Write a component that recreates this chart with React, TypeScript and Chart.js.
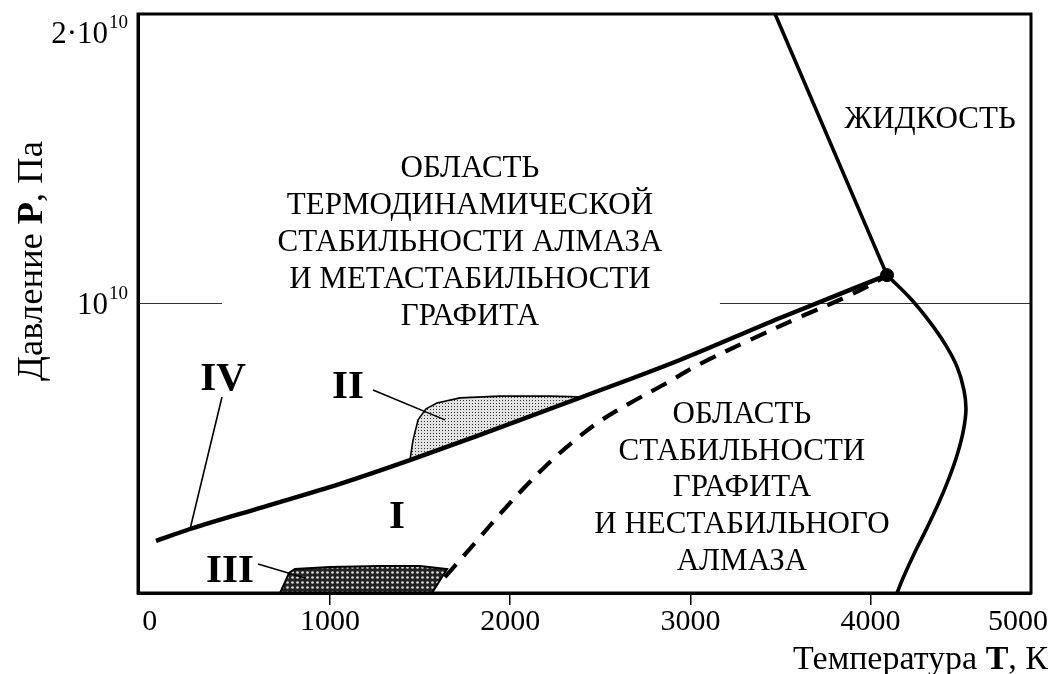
import React, { useEffect, useRef } from "react";
import { Chart, registerables } from "chart.js";

Chart.register(...registerables);

const FONT = '"Liberation Serif", "Times New Roman", serif';

// ---- axes ----
const xMin = -65;
const xMax = 4890;
const xTickValues = [0, 1000, 2000, 3000, 4000, 5000];
const xTickLabels = ["0", "1000", "2000", "3000", "4000", "5000"];
const yTickValues = [1e10, 2e10];
const yTickBase = ["10", "2·10"];
const yTickExp = ["10", "10"];

// ---- IV: diamond / graphite equilibrium line (T, K ; P, Pa) ----
const lineIV_T = [35, 224, 629, 1056, 1444, 1833, 2399, 2942, 3497, 4091];
const lineIV_P = [0.180e10, 0.221e10, 0.297e10, 0.377e10, 0.459e10, 0.546e10, 0.677e10, 0.805e10, 0.950e10, 1.098e10];

// ---- dashed line ----
const dashed_T = [1638, 1722, 1833, 1944, 2082, 2221, 2360, 2499, 2665, 2859, 3053, 3331, 3608, 3886, 4091];
const dashed_P = [0.055e10, 0.114e10, 0.193e10, 0.273e10, 0.366e10, 0.4525e10, 0.5285e10, 0.594e10, 0.656e10, 0.722e10, 0.791e10, 0.874e10, 0.953e10, 1.029e10, 1.095e10];

// ---- melting lines ----
const meltUpper_T = [3470, 4091];
const meltUpper_P = [2.0e10, 1.098e10];
const meltLower_T = [4091, 4219, 4324, 4413, 4480, 4518, 4529, 4513, 4480, 4435, 4380, 4313, 4241, 4180, 4147];
const meltLower_P = [1.098e10, 1.019e10, 0.940e10, 0.860e10, 0.781e10, 0.701e10, 0.632e10, 0.556e10, 0.477e10, 0.397e10, 0.314e10, 0.225e10, 0.135e10, 0.052e10, 0.0];

// ---- triple point ----
const triple_T = [4091];
const triple_P = [1.098e10];

// ---- 10^10 reference line (interrupted by the text) ----
const refLeft_T = [-65, 401];
const refRight_T = [3164, 4890];
const ref_P = [1e10, 1e10];

// ---- region II (dotted) ----
const regionII_T = [1444, 1461, 1489, 1533, 1594, 1722, 1944, 2221, 2399, 1833, 1444];
const regionII_P = [0.459e10, 0.528e10, 0.598e10, 0.636e10, 0.656e10, 0.674e10, 0.680e10, 0.680e10, 0.677e10, 0.546e10, 0.459e10];

// ---- region III (cross-hatched) ----
const regionIII_T = [723, 751, 773, 806, 1000, 1278, 1500, 1650, 1566, 723];
const regionIII_P = [0, 0.038e10, 0.069e10, 0.083e10, 0.090e10, 0.093e10, 0.093e10, 0.083e10, 0, 0];

// ---- texts ----
const upperRegionLines = ["ОБЛАСТЬ", "ТЕРМОДИНАМИЧЕСКОЙ", "СТАБИЛЬНОСТИ АЛМАЗА", "И МЕТАСТАБИЛЬНОСТИ", "ГРАФИТА"];
const lowerRegionLines = ["ОБЛАСТЬ", "СТАБИЛЬНОСТИ", "ГРАФИТА", "И НЕСТАБИЛЬНОГО", "АЛМАЗА"];
const liquidLabel = "ЖИДКОСТЬ";
const romanLabels = ["IV", "II", "III", "I"];
const romanAt_T = [407, 1100, 445, 1372];
const romanAt_P = [0.701e10, 0.674e10, 0.038e10, 0.2245e10];
const leaderFrom_T = [401, 1239, 601];
const leaderFrom_P = [0.677e10, 0.701e10, 0.100e10];
const leaderTo_T = [224, 1638, 862];
const leaderTo_P = [0.221e10, 0.598e10, 0.052e10];
const upperAnchor = { T: 1777, P: 1.437e10 };
const lowerAnchor = { T: 3286, P: 0.587e10 };
const liquidAnchor = { T: 4330, P: 1.606e10 };

const pts = (T: number[], P: number[]) => T.map((t, i) => ({ x: t, y: P[i] }));

function drawRich(ctx: CanvasRenderingContext2D, parts: [string, boolean][], size: number, x: number, y: number, align: "left" | "center" | "right") {
  const widths = parts.map(([t, b]) => {
    ctx.font = `${b ? "bold " : ""}${size}px ${FONT}`;
    return ctx.measureText(t).width;
  });
  const total = widths.reduce((a, b) => a + b, 0);
  let cx = align === "left" ? x : align === "center" ? x - total / 2 : x - total;
  ctx.textAlign = "left";
  ctx.textBaseline = "alphabetic";
  parts.forEach(([t, b], i) => {
    ctx.font = `${b ? "bold " : ""}${size}px ${FONT}`;
    ctx.fillText(t, cx, y);
    cx += widths[i];
  });
}

const overlayPlugin = {
  id: "overlay",
  afterDraw(chart: any) {
    const { ctx, chartArea: a, scales, width } = chart;
    const X = (t: number) => scales.x.getPixelForValue(t);
    const Y = (p: number) => scales.y.getPixelForValue(p);
    ctx.save();
    ctx.fillStyle = "#000";
    ctx.strokeStyle = "#000";

    // frame
    ctx.lineWidth = 3;
    ctx.strokeRect(a.left, a.top, a.right - a.left, a.bottom - a.top);

    // x tick labels (kept inside the canvas)
    ctx.font = `30px ${FONT}`;
    ctx.textAlign = "center";
    ctx.textBaseline = "alphabetic";
    xTickValues.forEach((v, i) => {
      const w = ctx.measureText(xTickLabels[i]).width;
      const cx = Math.min(X(v), width - 13 - w / 2);
      ctx.fillText(xTickLabels[i], cx, a.bottom + 37);
    });

    // y tick labels with superscripts
    yTickValues.forEach((v, i) => {
      const py = Y(v);
      const base = Math.max(py + 10, a.top + 29);
      ctx.font = `31px ${FONT}`;
      const mw = ctx.measureText(yTickBase[i]).width;
      ctx.font = `19px ${FONT}`;
      const sw = ctx.measureText(yTickExp[i]).width;
      const sx = a.left - 10 - sw;
      ctx.textAlign = "left";
      ctx.textBaseline = "alphabetic";
      ctx.fillText(yTickExp[i], sx, base - 15);
      ctx.font = `31px ${FONT}`;
      ctx.fillText(yTickBase[i], sx - 1 - mw, base);
    });

    // axis titles
    drawRich(ctx, [["Температура ", false], ["T", true], [", К", false]], 34, width - 13, 669, "right");
    ctx.save();
    ctx.translate(42, 261);
    ctx.rotate(-Math.PI / 2);
    drawRich(ctx, [["Давление ", false], ["P", true], [", Па", false]], 36.5, 0, 0, "center");
    ctx.restore();

    // region texts
    ctx.font = `31px ${FONT}`;
    ctx.textAlign = "center";
    ctx.textBaseline = "alphabetic";
    upperRegionLines.forEach((s, i) => ctx.fillText(s, X(upperAnchor.T), Y(upperAnchor.P) + i * 37));
    lowerRegionLines.forEach((s, i) => ctx.fillText(s, X(lowerAnchor.T), Y(lowerAnchor.P) + i * 36.7));
    ctx.fillText(liquidLabel, X(liquidAnchor.T), Y(liquidAnchor.P));

    // leader lines
    ctx.lineWidth = 1.6;
    leaderFrom_T.forEach((t, i) => {
      ctx.beginPath();
      ctx.moveTo(X(t), Y(leaderFrom_P[i]));
      ctx.lineTo(X(leaderTo_T[i]), Y(leaderTo_P[i]));
      ctx.stroke();
    });

    // roman labels
    ctx.font = `bold 41px ${FONT}`;
    ctx.textAlign = "center";
    romanLabels.forEach((s, i) => ctx.fillText(s, X(romanAt_T[i]), Y(romanAt_P[i])));
    ctx.restore();
  },
};

function makePattern(ctx: CanvasRenderingContext2D, kind: "dots" | "cross") {
  const c = document.createElement("canvas");
  const g = c.getContext("2d")!;
  if (kind === "dots") {
    c.width = 3;
    c.height = 3;
    g.fillStyle = "#e2e2e2";
    g.fillRect(0, 0, 3, 3);
    g.fillStyle = "#333";
    g.fillRect(1, 1, 1, 1);
  } else {
    c.width = 5;
    c.height = 5;
    g.fillStyle = "#222";
    g.fillRect(0, 0, 5, 5);
    g.fillStyle = "#d8d8d8";
    g.beginPath();
    g.arc(2.5, 2.5, 1.35, 0, Math.PI * 2);
    g.fill();
  }
  return ctx.createPattern(c, "repeat");
}

export default function App() {
  const ref = useRef<HTMLCanvasElement>(null);
  useEffect(() => {
    const canvas = ref.current!;
    const ctx = canvas.getContext("2d")!;
    const dots = makePattern(ctx, "dots");
    const cross = makePattern(ctx, "cross");
    const line = { showLine: true, pointRadius: 0, borderColor: "#000", fill: false };
    const chart = new Chart(canvas, {
      type: "scatter",
      data: {
        datasets: [
          { ...line, label: "triple", data: pts(triple_T, triple_P), showLine: false, pointRadius: 6.5, pointBackgroundColor: "#000", pointBorderColor: "#000" },
          { ...line, label: "IV", data: pts(lineIV_T, lineIV_P), borderWidth: 4.4, tension: 0.3, cubicInterpolationMode: "monotone" },
          { ...line, label: "dashed", data: pts(dashed_T, dashed_P), borderWidth: 4.2, borderDash: [17, 11], tension: 0.35 },
          { ...line, label: "melt-upper", data: pts(meltUpper_T, meltUpper_P), borderWidth: 3.6 },
          { ...line, label: "melt-lower", data: pts(meltLower_T, meltLower_P), borderWidth: 3.6, tension: 0.4 },
          { ...line, label: "ref-left", data: pts(refLeft_T, ref_P), borderWidth: 1.2, borderColor: "#333" },
          { ...line, label: "ref-right", data: pts(refRight_T, ref_P), borderWidth: 1.2, borderColor: "#333" },
          { ...line, label: "II", data: pts(regionII_T, regionII_P), borderWidth: 1.6, fill: "shape", backgroundColor: dots },
          { ...line, label: "III", data: pts(regionIII_T, regionIII_P), borderWidth: 2, fill: "shape", backgroundColor: cross },
        ],
      },
      options: {
        animation: false,
        responsive: true,
        maintainAspectRatio: false,
        layout: { padding: { top: 14, right: 30, left: 0, bottom: 0 } },
        plugins: { legend: { display: false }, tooltip: { enabled: false } },
        scales: {
          x: {
            type: "linear",
            min: xMin,
            max: xMax,
            afterBuildTicks: (s: any) => {
              s.ticks = xTickValues.filter((v) => v > 0 && v < xMax).map((v) => ({ value: v }));
            },
            afterFit: (s: any) => {
              s.height = 81;
            },
            ticks: { display: false },
            grid: {
              drawOnChartArea: false,
              drawTicks: true,
              tickLength: 12,
              lineWidth: 1.5,
              color: "#000",
            },
            border: { display: true, color: "#000", width: 3 },
          },
          y: {
            type: "linear",
            min: 0,
            max: 2e10,
            afterFit: (s: any) => {
              s.width = 138;
            },
            ticks: { display: false },
            grid: { display: false },
            border: { display: true, color: "#000", width: 3 },
          },
        },
      },
      plugins: [overlayPlugin],
    } as any);
    return () => chart.destroy();
  }, []);
  return (
    <div style={{ position: "absolute", left: 0, top: 0, width: 1061, height: 674, background: "#fff" }}>
      <canvas ref={ref} />
    </div>
  );
}
